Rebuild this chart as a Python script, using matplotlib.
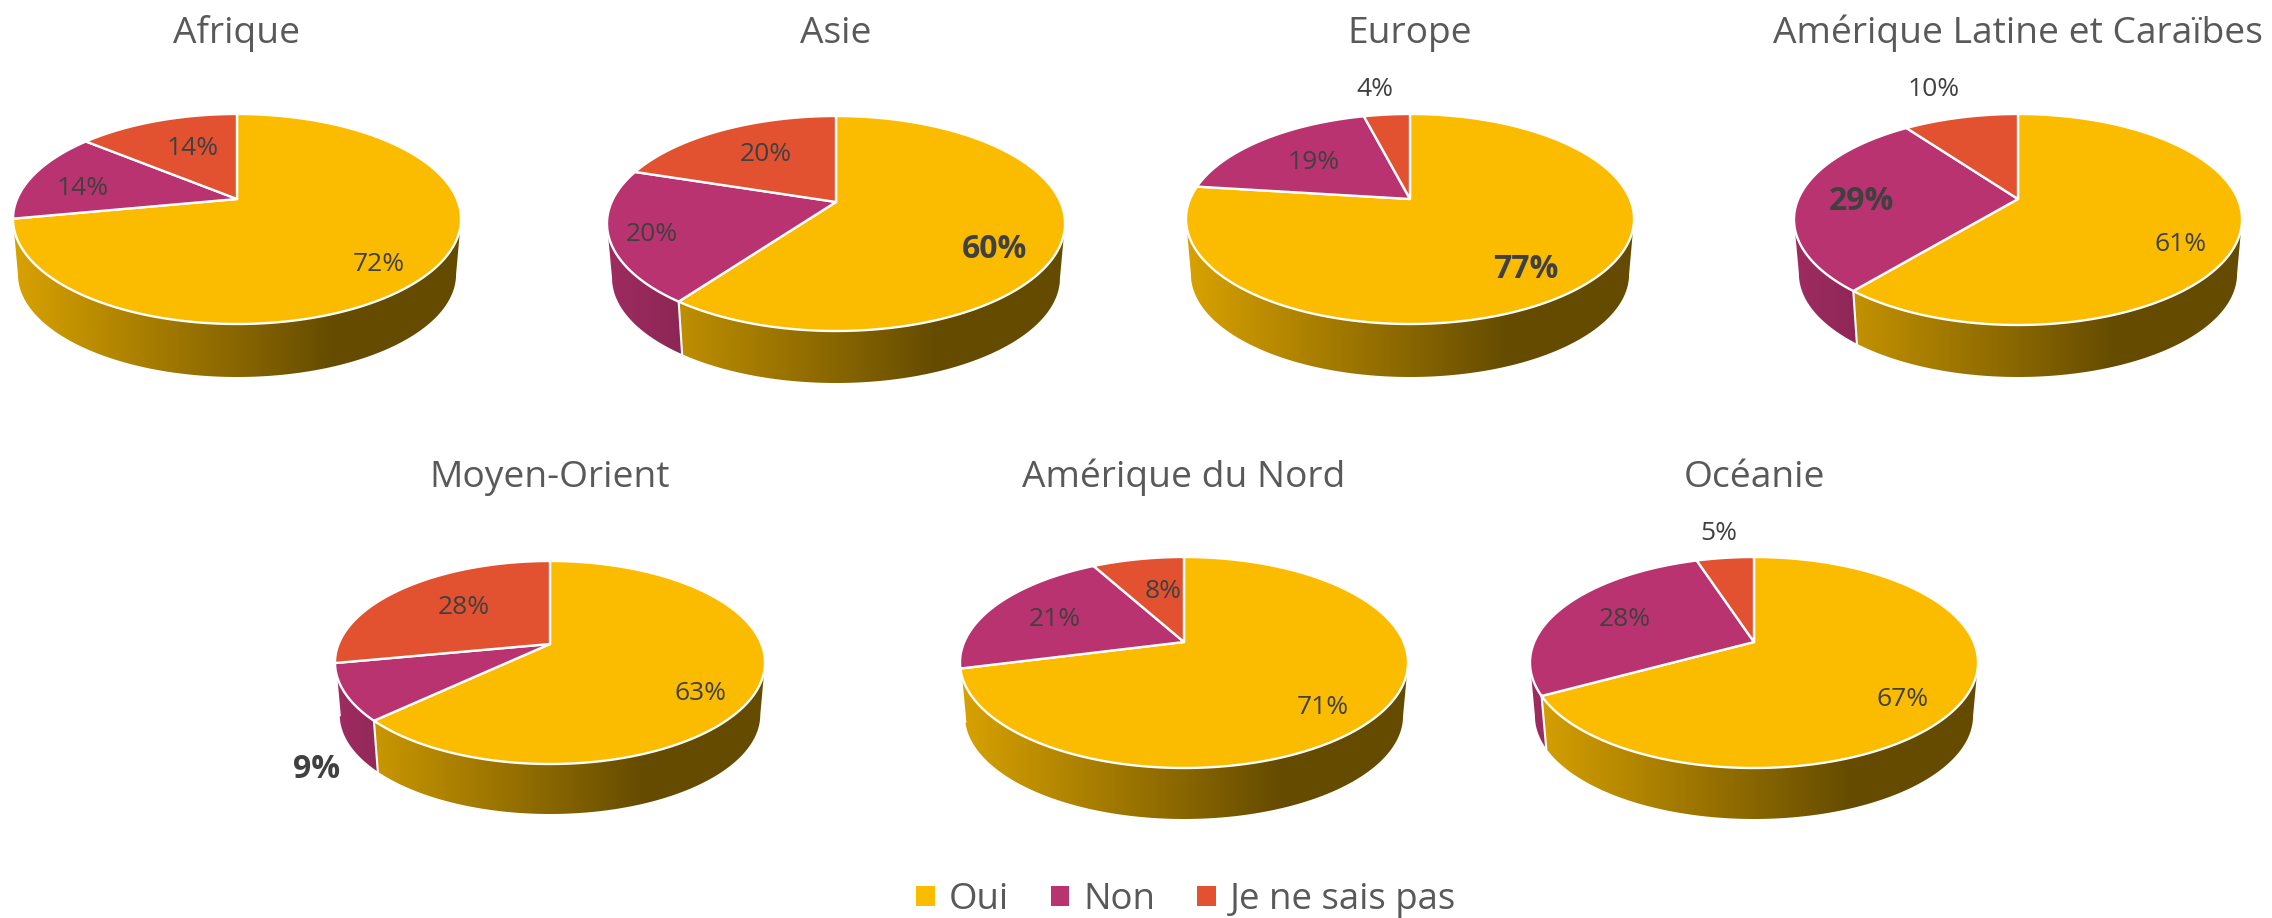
import numpy as np
import matplotlib
matplotlib.use("Agg")
import matplotlib.pyplot as plt
from matplotlib.patches import Polygon, Patch
from matplotlib.colors import to_rgb

plt.rcParams['font.family'] = ['Open Sans', 'DejaVu Sans']

W, H = 2272, 918

# data
regions = ["Afrique", "Asie", "Europe", "Amérique Latine et Caraïbes",
           "Moyen-Orient", "Amérique du Nord", "Océanie"]
answers = ["Oui", "Non", "Je ne sais pas"]
oui = [72, 60, 77, 61, 63, 71, 67]
non = [14, 20, 19, 29, 9, 21, 28]
nsp = [14, 20, 4, 10, 28, 8, 5]
# which answer has a bold label in each region (None = no bold)
bold = [None, 0, 0, 1, 1, None, None]

colors = ["#FBBC00", "#B83370", "#E25230"]
label_color = "#404040"
title_color = "#595959"

# layout, pixels of the picture: apex x, title baseline, rim top, apex y, rim bottom, wall bottom, rx
layout = [
    (237, 43, 114, 199, 324, 377, 224),
    (836, 43, 116, 202, 331, 383, 229),
    (1410, 43, 114, 199, 324, 377, 224),
    (2018, 43, 114, 199, 325, 377, 224),
    (550, 487, 561, 644, 764, 814, 215),
    (1184, 487, 557, 642, 768, 819, 224),
    (1754, 487, 557, 642, 768, 819, 224),
]

# label centres, pixels of the picture, same order as answers
label_pos = [
    [(379, 262), (83, 186), (193, 146)],
    [(995, 247), (652, 232), (766, 152)],
    [(1526, 267), (1314, 160), (1375, 87)],
    [(2181, 242), (1862, 199), (1934, 87)],
    [(700, 691), (317, 767), (464, 605)],
    [(1323, 705), (1055, 617), (1163, 589)],
    [(1903, 697), (1625, 617), (1719, 531)],
]

HALF = 235
SHRINK = 0.978  # bottom disc is a little narrower


def rim(theta, A, B, k):
    # perspective view of a unit circle, theta clockwise from the top
    X, Y = np.sin(theta), np.cos(theta)
    return A * X / (1 + k * Y), B * Y / (1 + k * Y)


def draw_pie(ax, vals, geom, idx):
    cx, base, top, apex, bot, wall, rx = geom
    t, b = apex - top, bot - apex
    k = (b - t) / (b + t)
    B = t * (1 + k)
    A = rx * np.sqrt(1 - k * k)
    d = (wall - apex) - SHRINK * b

    edges = np.radians(np.cumsum([0] + vals) / sum(vals) * 360)
    # where the rim is widest, the wall is only seen between these two
    side = np.arccos(-k)

    # walls first, back to front
    for i in [2, 1, 0]:
        t0 = max(edges[i], side)
        t1 = min(edges[i + 1], 2 * np.pi - side)
        if t1 <= t0:
            continue
        th = np.linspace(t0, t1, 120)
        x, y = rim(th, A, B, k)
        xb, yb = SHRINK * x, SHRINK * y - d
        poly = Polygon(np.r_[np.c_[x, y], np.c_[xb, yb][::-1]], transform=ax.transData)
        frac = np.linspace(0, 1, 256)
        shade = 0.86 - 0.46 * np.minimum(frac / 0.72, 1)
        grad = (np.array(to_rgb(colors[i]))[None, None, :] * shade[None, :, None])
        im = ax.imshow(grad, extent=[-rx, rx, -(wall - apex), t], aspect='auto',
                       interpolation='bilinear', zorder=2)
        im.set_clip_path(poly)

    # separators on the wall
    for e in edges[1:3]:
        if side < e < 2 * np.pi - side:
            x, y = rim(e, A, B, k)
            ax.plot([x, SHRINK * x], [y, SHRINK * y - d], color="white", lw=1.5, zorder=3)

    # top face
    for i in range(3):
        th = np.linspace(edges[i], edges[i + 1], 200)
        x, y = rim(th, A, B, k)
        pts = np.r_[[[0, 0]], np.c_[x, y]]
        ax.add_patch(Polygon(pts, closed=True, facecolor=colors[i], edgecolor="white",
                             lw=1.7, joinstyle='round', zorder=4))

    for i in range(3):
        lx, ly = label_pos[idx][i]
        is_bold = bold[idx] == i
        ax.text(lx - cx, apex - ly - 2, "%d%%" % vals[i], ha='center', va='center',
                color=label_color, fontsize=23 if is_bold else 19,
                fontweight='bold' if is_bold else 'normal', zorder=5, clip_on=False)

    ax.set_xlim(-HALF, HALF)
    ax.set_ylim(-(wall + 4 - apex), apex - base)


fig = plt.figure(figsize=(W / 100, H / 100), dpi=100)

for n, geom in enumerate(layout):
    cx, base, top, apex, bot, wall, rx = geom
    ax = fig.add_axes([(cx - HALF) / W, 1 - (wall + 4) / H, 2 * HALF / W, (wall + 4 - base) / H])
    ax.axis('off')
    draw_pie(ax, [oui[n], non[n], nsp[n]], geom, n)
    ax.set_title(regions[n], fontsize=26.7, color=title_color, pad=0, loc='center', y=1.0)

handles = [Patch(facecolor=c, edgecolor='none') for c in colors]
fig.legend(handles, answers, ncol=3, loc='center', bbox_to_anchor=(1186 / W, 1 - 900 / H),
           frameon=False, fontsize=26.4, labelcolor=title_color, handlelength=0.5,
           handleheight=0.5, handletextpad=0.38, columnspacing=1.15)

fig.savefig("out.png", dpi=100)
